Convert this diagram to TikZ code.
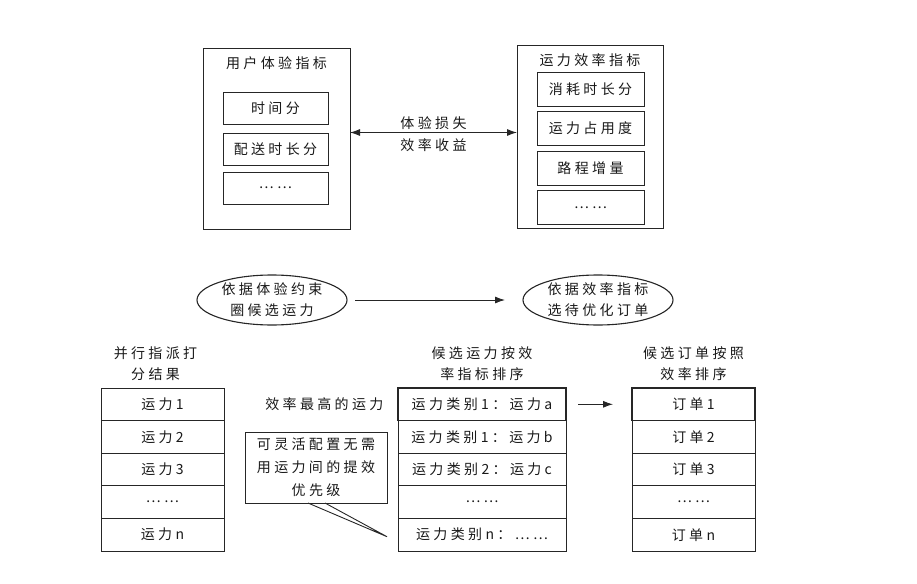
\documentclass[tikz,border=0pt]{standalone}
\usepackage{fontspec}
\setmainfont{Noto Sans CJK SC}[LetterSpace=24]
\usetikzlibrary{positioning,shapes.geometric,arrows.meta}

\tikzset{
  box/.style={draw=black!85, line width=0.8pt, inner sep=0pt, outer sep=0pt},
  uxitem/.style={box, minimum width=105pt, minimum height=32pt},
  effitem/.style={box, minimum width=107pt, minimum height=34pt},
  cell/.style={box, minimum height=32.6pt},
  asgcell/.style={cell, minimum width=123pt},
  rankcell/.style={cell, minimum width=168pt},
  ordcell/.style={cell, minimum width=123pt},
  hot/.style={line width=1.7pt},
  oval/.style={ellipse, box, line width=1.1pt, minimum width=150pt, minimum height=50pt, align=center},
  conn/.style={draw=black!85, line width=0.9pt},
}

\begin{document}
\begin{tikzpicture}[x=1pt, y=-1pt, >={Latex[length=10pt,width=7pt]},
    every node/.style={font=\fontsize{14}{21}\selectfont, text=black!90}]
  \useasboundingbox (0,0) rectangle (917,583);

  % Indicator panels
  \node[box, minimum width=147pt, minimum height=181pt] (ux) at (276.5,138.5) {};
  \node (uxtitle) at ([yshift=-15pt]ux.north) {用户体验指标};
  \node[uxitem] (ux1) at (275.5,108) {时间分};
  \node[uxitem, below=9pt of ux1] (ux2) {配送时长分};
  \node[uxitem, below=7pt of ux2] (ux3) {……};

  \node[box, minimum width=146pt, minimum height=183pt] (eff) at (590,136.5) {};
  \node (efftitle) at ([yshift=-15pt]eff.north) {运力效率指标};
  \node[effitem] (eff1) at (590.5,89) {消耗时长分};
  \node[effitem, below=5.5pt of eff1] (eff2) {运力占用度};
  \node[effitem, below=5.5pt of eff2] (eff3) {路程增量};
  \node[effitem, below=5.5pt of eff3] (eff4) {……};

  \draw[conn, <->] ([yshift=6pt]ux.east) -- ([yshift=6pt]ux.east -| eff.west)
    node[midway, above=-1pt] {体验损失}
    node[midway, below=2pt] {效率收益};

  % Steps
  \node[oval] (cons) at (272,300) {依据体验约束\\圈候选运力};
  \node[oval] (pick) at (598,300) {依据效率指标\\选待优化订单};
  \draw[conn, ->, shorten <=8pt, shorten >=18pt] (cons) -- (pick);

  % Assignment results
  \node[asgcell] (as1) at (162.5,404.3) {运力1};
  \node[asgcell, below=0pt of as1] (as2) {运力2};
  \node[asgcell, below=0pt of as2] (as3) {运力3};
  \node[asgcell, below=0pt of as3] (as4) {……};
  \node[asgcell, below=0pt of as4] (as5) {运力n};
  \node[align=center, above=4pt of as1, xshift=-7pt] (astitle) {并行指派打\\分结果};

  % Ranked riders
  \node[rankcell, hot] (rk1) at (482,404.3) {运力类别1：运力a};
  \node[rankcell, below=0pt of rk1] (rk2) {运力类别1：运力b};
  \node[rankcell, below=0pt of rk2] (rk3) {运力类别2：运力c};
  \node[rankcell, below=0pt of rk3] (rk4) {……};
  \node[rankcell, below=0pt of rk4] (rk5) {运力类别n：……};
  \node[align=center, above=4pt of rk1] (rktitle) {候选运力按效\\率指标排序};
  \node[left=11pt of rk1] (best) {效率最高的运力};

  % Ranked orders
  \node[ordcell, hot] (od1) at (693.5,404.3) {订单1};
  \node[ordcell, below=0pt of od1] (od2) {订单2};
  \node[ordcell, below=0pt of od2] (od3) {订单3};
  \node[ordcell, below=0pt of od3] (od4) {……};
  \node[ordcell, below=0pt of od4] (od5) {订单n};
  \node[align=center, above=4pt of od1] (odtitle) {候选订单按照\\效率排序};

  \draw[conn, ->, shorten <=12pt, shorten >=19pt] (rk1) -- (od1);

  % Callout
  \node[box, align=center, minimum width=142pt, minimum height=71pt,
    font=\fontsize{14}{23}\selectfont] (note) at (316,467.5)
    {可灵活配置无需\\用运力间的提效\\优先级};
  \coordinate (tip) at ([xshift=-11pt, yshift=-2pt]rk5.west);
  \draw[conn] ([xshift=-8pt]note.south) -- (tip) -- ([xshift=9pt]note.south);
\end{tikzpicture}
\end{document}
